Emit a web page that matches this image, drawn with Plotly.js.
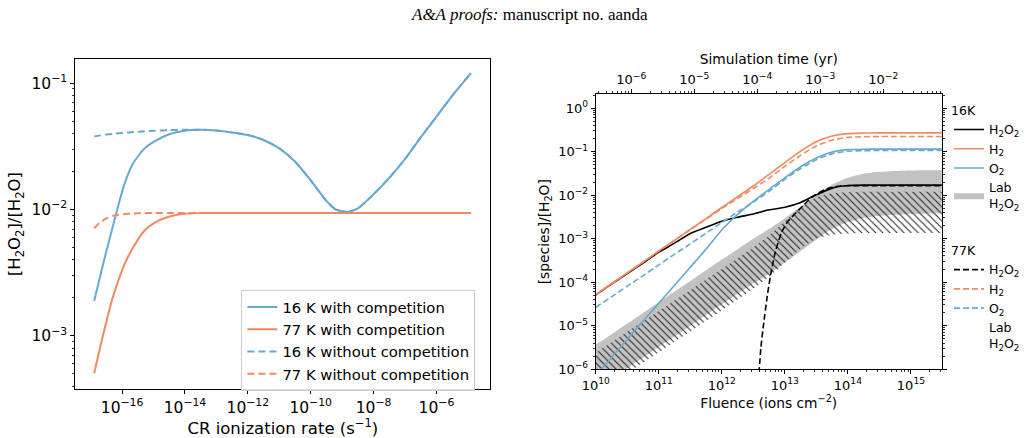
<!DOCTYPE html>
<html>
<head>
<meta charset="utf-8">
<script src="https://cdn.plot.ly/plotly-3.0.1.min.js"></script>
<style>
  html, body { margin: 0; padding: 0; background: #ffffff; }
  #chart { width: 1025px; height: 438px; }
</style>
</head>
<body>
<div id="chart"></div>
<script>
// ---------- Left panel: steady-state [H2O2]/[H2O] against CR ionization rate ----------
const crRate = [1.29e-17, 2.0e-17, 3.16e-17, 5.0e-17, 7.9e-17, 1.26e-16, 2.24e-16, 5.0e-16,
  1e-15, 3.16e-15, 1e-14, 3.16e-14, 1e-13, 3.16e-13, 1e-12, 3.16e-12, 1e-11, 3.16e-11,
  1e-10, 3.16e-10, 6.3e-10, 1.48e-9, 3.16e-9, 1e-8, 3.16e-8, 1e-7, 3.16e-7, 1e-6, 3.16e-6, 1.26e-5];

const ratio16KComp = [1.89e-3, 2.95e-3, 4.68e-3, 7.24e-3, 1.12e-2, 1.66e-2, 2.32e-2, 3.02e-2,
  3.43e-2, 3.94e-2, 4.2e-2, 4.27e-2, 4.22e-2, 4.07e-2, 3.89e-2, 3.55e-2, 3.05e-2, 2.4e-2,
  1.7e-2, 1.17e-2, 1.0e-2, 9.55e-3, 1.02e-2, 1.32e-2, 1.78e-2, 2.51e-2, 3.72e-2, 5.43e-2, 7.94e-2, 0.12];

const ratio77KComp = [5.05e-4, 8.1e-4, 1.3e-3, 2.0e-3, 2.82e-3, 3.8e-3, 5.0e-3, 6.76e-3,
  7.76e-3, 8.8e-3, 9.27e-3, 9.37e-3, 9.4e-3, 9.4e-3, 9.4e-3, 9.4e-3, 9.4e-3, 9.4e-3,
  9.4e-3, 9.4e-3, 9.4e-3, 9.4e-3, 9.4e-3, 9.4e-3, 9.4e-3, 9.4e-3, 9.4e-3, 9.4e-3, 9.4e-3, 9.4e-3];

const ratio16KNoComp = [3.79e-2, 3.86e-2, 3.92e-2, 3.97e-2, 4.01e-2, 4.05e-2, 4.1e-2, 4.16e-2,
  4.2e-2, 4.25e-2, 4.28e-2, 4.28e-2, 4.22e-2, 4.07e-2, 3.89e-2, 3.55e-2, 3.05e-2, 2.4e-2,
  1.7e-2, 1.17e-2, 1.0e-2, 9.55e-3, 1.02e-2, 1.32e-2, 1.78e-2, 2.51e-2, 3.72e-2, 5.43e-2, 7.94e-2, 0.12];

const ratio77KNoComp = [7.1e-3, 7.9e-3, 8.5e-3, 8.9e-3, 9.1e-3, 9.2e-3, 9.3e-3, 9.35e-3,
  9.4e-3, 9.4e-3, 9.4e-3, 9.4e-3, 9.4e-3, 9.4e-3, 9.4e-3, 9.4e-3, 9.4e-3, 9.4e-3,
  9.4e-3, 9.4e-3, 9.4e-3, 9.4e-3, 9.4e-3, 9.4e-3, 9.4e-3, 9.4e-3, 9.4e-3, 9.4e-3, 9.4e-3, 9.4e-3];

// ---------- Right panel: species abundances against fluence ----------
const fluence = [1e10, 1.78e10, 3.16e10, 5.62e10, 1e11, 1.78e11, 3.16e11, 5.62e11,
  1e12, 1.78e12, 3.16e12, 5.62e12, 1e13, 1.78e13, 3.16e13, 5.62e13,
  1e14, 1.78e14, 3.16e14, 5.62e14, 1e15, 1.78e15, 3.16e15];

const h2o2At16K = [5.1e-5, 9.1e-5, 1.58e-4, 2.75e-4, 4.9e-4, 7.9e-4, 1.32e-3, 1.82e-3,
  2.5e-3, 3.1e-3, 3.7e-3, 4.6e-3, 5.25e-3, 6.8e-3, 1.02e-2, 1.45e-2,
  1.66e-2, 1.7e-2, 1.7e-2, 1.7e-2, 1.7e-2, 1.7e-2, 1.7e-2];
const h2At16K = [5.2e-5, 9.2e-5, 1.63e-4, 2.9e-4, 5.2e-4, 9.2e-4, 1.63e-3, 2.9e-3,
  5.2e-3, 9.2e-3, 1.62e-2, 3.0e-2, 5.6e-2, 0.103, 0.169, 0.228,
  0.259, 0.267, 0.27, 0.27, 0.27, 0.27, 0.27];
const o2At16K = [7.1e-7, 1.86e-6, 4.9e-6, 1.26e-5, 3.3e-5, 8.5e-5, 2.2e-4, 5.75e-4,
  1.58e-3, 3.6e-3, 7.2e-3, 1.35e-2, 2.5e-2, 4.5e-2, 7.1e-2, 9.8e-2,
  0.111, 0.1135, 0.114, 0.114, 0.114, 0.114, 0.114];
const h2At77K = [5.2e-5, 9.2e-5, 1.63e-4, 2.9e-4, 5.2e-4, 9.1e-4, 1.6e-3, 2.8e-3,
  4.9e-3, 8.4e-3, 1.42e-2, 2.45e-2, 4.6e-2, 0.082, 0.135, 0.184,
  0.212, 0.22, 0.222, 0.222, 0.222, 0.222, 0.222];
const o2At77K = [2.65e-5, 4.6e-5, 8.1e-5, 1.41e-4, 2.5e-4, 4.4e-4, 7.6e-4, 1.33e-3,
  2.35e-3, 4.1e-3, 6.9e-3, 1.23e-2, 2.3e-2, 4.1e-2, 6.5e-2, 9.0e-2,
  0.102, 0.105, 0.106, 0.106, 0.106, 0.106, 0.106];

// H2O2 at 77 K only appears after an onset fluence, so it has its own sampling
const fluence77H2O2 = [3.8e12, 4.17e12, 4.57e12, 5.25e12, 5.89e12, 7.08e12, 8.91e12, 1.12e13,
  1.78e13, 2.75e13, 4.57e13, 7.41e13, 1.26e14, 3.16e14, 1e15, 3.16e15];
const h2o2At77K = [5e-7, 3.16e-6, 1.0e-5, 4.7e-5, 1.35e-4, 5.0e-4, 1.41e-3, 2.5e-3,
  5.0e-3, 9.3e-3, 1.38e-2, 1.62e-2, 1.64e-2, 1.64e-2, 1.64e-2, 1.64e-2];

// Laboratory H2O2 ranges (lower / upper envelopes)
const lab16KUpper = [3.63e-6, 6.38e-6, 1.12e-5, 1.97e-5, 3.47e-5, 6.1e-5, 1.07e-4, 1.88e-4,
  3.31e-4, 5.75e-4, 1.0e-3, 1.66e-3, 2.95e-3, 5.5e-3, 1.0e-2, 1.74e-2,
  2.51e-2, 3.09e-2, 3.43e-2, 3.6e-2, 3.7e-2, 3.75e-2, 3.75e-2];
const lab16KLower = [3.4e-7, 6.0e-7, 1.05e-6, 1.85e-6, 3.25e-6, 5.7e-6, 1.0e-5, 1.76e-5,
  3.1e-5, 5.4e-5, 9.4e-5, 1.56e-4, 2.8e-4, 5.2e-4, 9.5e-4, 1.66e-3,
  2.4e-3, 3.0e-3, 3.35e-3, 3.55e-3, 3.7e-3, 3.8e-3, 3.9e-3];
const lab77KUpper = [2.4e-6, 4.17e-6, 7.24e-6, 1.26e-5, 2.19e-5, 3.8e-5, 6.6e-5, 1.15e-4,
  2.0e-4, 3.55e-4, 6.3e-4, 1.17e-3, 2.5e-3, 5.25e-3, 8.9e-3, 1.1e-2,
  1.17e-2, 1.2e-2, 1.2e-2, 1.2e-2, 1.2e-2, 1.2e-2, 1.2e-2];
const lab77KLower = [2.7e-7, 4.7e-7, 8.1e-7, 1.41e-6, 2.45e-6, 4.3e-6, 7.4e-6, 1.29e-5,
  2.24e-5, 4.0e-5, 7.1e-5, 1.32e-4, 2.8e-4, 5.9e-4, 1.0e-3, 1.23e-3,
  1.31e-3, 1.35e-3, 1.35e-3, 1.35e-3, 1.35e-3, 1.35e-3, 1.35e-3];

// Fluence delivered per year of simulated time (ions cm^-2 yr^-1), for the top axis
const FLUENCE_PER_YEAR = 3.65e16;

// Tick exponents
const leftXExp = [-16, -14, -12, -10, -8, -6];
const leftYExp = [-3, -2, -1];
const rightXExp = [10, 11, 12, 13, 14, 15];
const rightYExp = [-6, -5, -4, -3, -2, -1, 0];
const timeExp = [-6, -5, -4, -3, -2];

// ---------- helpers ----------
const BLUE = '#67a9cf';
const ORANGE = '#ef8a62';
const FONT = 'DejaVu Sans, Arial, sans-serif';

function powLabel(e) {
  return '10<sup>' + (e < 0 ? '\u2212' : '') + Math.abs(e) + '</sup>';
}
function minorTicks(lo, hi) {
  const out = [];
  for (let k = Math.floor(lo); k <= Math.ceil(hi); k++) {
    for (let m = 2; m <= 9; m++) out.push(m * Math.pow(10, k));
  }
  return out;
}
function logAxis(exps, range, fontSize, withMinor) {
  const ax = {
    type: 'log',
    range: range,
    tickmode: 'array',
    tickvals: exps.map(e => Math.pow(10, e)),
    ticktext: exps.map(powLabel),
    ticks: 'outside',
    ticklen: 4,
    tickwidth: 1,
    tickcolor: '#000',
    showline: true,
    linecolor: '#000',
    linewidth: 1,
    showgrid: false,
    zeroline: false,
    tickfont: { family: FONT, size: fontSize, color: '#000' },
    automargin: false
  };
  if (withMinor) {
    ax.minor = {
      tickmode: 'array',
      tickvals: minorTicks(range[0], range[1]),
      ticks: 'outside',
      ticklen: 2,
      tickwidth: 0.8,
      tickcolor: '#000',
      showgrid: false
    };
  }
  return ax;
}

const spline = { shape: 'spline', smoothing: 0.6 };

// ---------- traces ----------
const traces = [];

// left panel
traces.push({ x: crRate, y: ratio16KComp, name: '16 K with competition', mode: 'lines',
  line: Object.assign({ color: BLUE, width: 2 }, spline), xaxis: 'x', yaxis: 'y', legend: 'legend' });
traces.push({ x: crRate, y: ratio77KComp, name: '77 K with competition', mode: 'lines',
  line: Object.assign({ color: ORANGE, width: 2 }, spline), xaxis: 'x', yaxis: 'y', legend: 'legend' });
traces.push({ x: crRate, y: ratio16KNoComp, name: '16 K without competition', mode: 'lines',
  line: Object.assign({ color: BLUE, width: 2, dash: '7px,4px' }, spline), xaxis: 'x', yaxis: 'y', legend: 'legend' });
traces.push({ x: crRate, y: ratio77KNoComp, name: '77 K without competition', mode: 'lines',
  line: Object.assign({ color: ORANGE, width: 2, dash: '7px,4px' }, spline), xaxis: 'x', yaxis: 'y', legend: 'legend' });

// right panel: laboratory ranges (behind the model curves)
traces.push({ x: fluence, y: lab16KLower, mode: 'lines', line: { width: 0, shape: 'spline', smoothing: 0.6 },
  hoverinfo: 'skip', showlegend: false, xaxis: 'x2', yaxis: 'y2' });
traces.push({ x: fluence, y: lab16KUpper, mode: 'lines', fill: 'tonexty', fillcolor: '#c2c2c2',
  line: { width: 0, shape: 'spline', smoothing: 0.6 }, name: 'Lab<br>H<sub>2</sub>O<sub>2</sub>',
  legend: 'legend2', legendrank: 4, xaxis: 'x2', yaxis: 'y2' });
traces.push({ x: fluence, y: lab77KLower, mode: 'lines', line: { width: 0, shape: 'spline', smoothing: 0.6 },
  hoverinfo: 'skip', showlegend: false, xaxis: 'x2', yaxis: 'y2' });
traces.push({ x: fluence, y: lab77KUpper, mode: 'lines', fill: 'tonexty', fillcolor: 'rgba(0,0,0,0)',
  fillpattern: { shape: '\\', fgcolor: '#1e1e1e', bgcolor: 'rgba(0,0,0,0)', size: 5, solidity: 0.2 },
  line: { width: 0, shape: 'spline', smoothing: 0.6 }, showlegend: false, xaxis: 'x2', yaxis: 'y2' });

// right panel: 16 K model
traces.push({ x: fluence, y: h2o2At16K, name: 'H<sub>2</sub>O<sub>2</sub>', mode: 'lines',
  line: Object.assign({ color: '#000', width: 1.6 }, spline), legend: 'legend2', legendrank: 1, xaxis: 'x2', yaxis: 'y2' });
traces.push({ x: fluence, y: h2At16K, name: 'H<sub>2</sub>', mode: 'lines',
  line: Object.assign({ color: ORANGE, width: 1.6 }, spline), legend: 'legend2', legendrank: 2, xaxis: 'x2', yaxis: 'y2' });
traces.push({ x: fluence, y: o2At16K, name: 'O<sub>2</sub>', mode: 'lines',
  line: Object.assign({ color: BLUE, width: 1.6 }, spline), legend: 'legend2', legendrank: 3, xaxis: 'x2', yaxis: 'y2' });

// right panel: 77 K model
traces.push({ x: fluence77H2O2, y: h2o2At77K, name: 'H<sub>2</sub>O<sub>2</sub>', mode: 'lines',
  line: Object.assign({ color: '#000', width: 1.6, dash: '6px,3px' }, spline), legend: 'legend3', legendrank: 1, xaxis: 'x2', yaxis: 'y2' });
traces.push({ x: fluence, y: h2At77K, name: 'H<sub>2</sub>', mode: 'lines',
  line: Object.assign({ color: ORANGE, width: 1.6, dash: '6px,3px' }, spline), legend: 'legend3', legendrank: 2, xaxis: 'x2', yaxis: 'y2' });
traces.push({ x: fluence, y: o2At77K, name: 'O<sub>2</sub>', mode: 'lines',
  line: Object.assign({ color: BLUE, width: 1.6, dash: '6px,3px' }, spline), legend: 'legend3', legendrank: 3, xaxis: 'x2', yaxis: 'y2' });
// legend entry for the hatched laboratory range (drawn without a key symbol)
traces.push({ x: [null], y: [null], name: 'Lab<br>H<sub>2</sub>O<sub>2</sub>', mode: 'lines',
  line: { width: 0, color: 'rgba(0,0,0,0)' }, legend: 'legend3', legendrank: 4, xaxis: 'x2', yaxis: 'y2' });

// the same 16 K H2O2 run placed on the simulation-time scale, so the top axis is drawn
traces.push({ x: fluence.map(f => f / FLUENCE_PER_YEAR), y: h2o2At16K, mode: 'lines',
  line: { width: 0, color: 'rgba(0,0,0,0)' }, hoverinfo: 'skip', showlegend: false,
  xaxis: 'x3', yaxis: 'y2' });

// ---------- layout ----------
const fluenceRange = [10, 15.49];
const yr = Math.log10(FLUENCE_PER_YEAR);

const xLeft = logAxis(leftXExp, [-17.49, -4.28], 15.5, false);
Object.assign(xLeft, { domain: [0.0735, 0.479], anchor: 'y', mirror: true,
  title: { text: 'CR ionization rate (s<sup>\u22121</sup>)', font: { family: FONT, size: 16.5, color: '#000' }, standoff: 8 } });

const yLeft = logAxis(leftYExp, [-3.42, -0.81], 15.5, true);
Object.assign(yLeft, { domain: [0.112, 0.865], anchor: 'x', mirror: true,
  title: { text: '[H<sub>2</sub>O<sub>2</sub>]/[H<sub>2</sub>O]', font: { family: FONT, size: 16.5, color: '#000' }, standoff: 6 } });

const xRight = logAxis(rightXExp, fluenceRange, 13, true);
Object.assign(xRight, { domain: [0.5818, 0.9197], anchor: 'y2', mirror: true,
  title: { text: 'Fluence (ions cm<sup>\u22122</sup>)', font: { family: FONT, size: 13.8, color: '#000' }, standoff: 4 } });

const yRight = logAxis(rightYExp, [-6, 0.32], 13, true);
Object.assign(yRight, { domain: [0.157, 0.785], anchor: 'x2', mirror: 'ticks',
  title: { text: '[species]/[H<sub>2</sub>O]', font: { family: FONT, size: 13.8, color: '#000' }, standoff: 5 } });

const xTime = logAxis(timeExp, [fluenceRange[0] - yr, fluenceRange[1] - yr], 13, true);
Object.assign(xTime, { overlaying: 'x2', anchor: 'y2', side: 'top',
  title: { text: 'Simulation time (yr)', font: { family: FONT, size: 13.8, color: '#000' }, standoff: 2 } });

const layout = {
  width: 1025,
  height: 438,
  margin: { l: 0, r: 0, t: 0, b: 0 },
  paper_bgcolor: '#ffffff',
  plot_bgcolor: '#ffffff',
  font: { family: FONT, color: '#000' },
  xaxis: xLeft,
  yaxis: yLeft,
  xaxis2: xRight,
  yaxis2: yRight,
  xaxis3: xTime,
  legend: {
    x: 0.2355, y: 0.338, xanchor: 'left', yanchor: 'top',
    bgcolor: 'rgba(255,255,255,0.85)', bordercolor: '#cccccc', borderwidth: 1,
    font: { family: FONT, size: 14.8, color: '#000' }, traceorder: 'normal'
  },
  legend2: {
    x: 0.927, y: 0.775, xanchor: 'left', yanchor: 'top',
    bgcolor: 'rgba(0,0,0,0)', borderwidth: 0,
    title: { text: '16K', font: { family: FONT, size: 12.5, color: '#000' } },
    font: { family: FONT, size: 12.5, color: '#000' }, traceorder: 'normal'
  },
  legend3: {
    x: 0.927, y: 0.455, xanchor: 'left', yanchor: 'top',
    bgcolor: 'rgba(0,0,0,0)', borderwidth: 0,
    title: { text: '77K', font: { family: FONT, size: 12.5, color: '#000' } },
    font: { family: FONT, size: 12.5, color: '#000' }, traceorder: 'normal'
  },
  annotations: [{
    text: '<i>A&amp;A proofs:</i> manuscript no. aanda',
    xref: 'paper', yref: 'paper', x: 0.517, y: 0.968, xanchor: 'center', yanchor: 'middle',
    showarrow: false, font: { family: 'Liberation Serif, Times New Roman, serif', size: 17, color: '#000' }
  }]
};

Plotly.newPlot('chart', traces, layout, { staticPlot: true, displayModeBar: false });
</script>
</body>
</html>
